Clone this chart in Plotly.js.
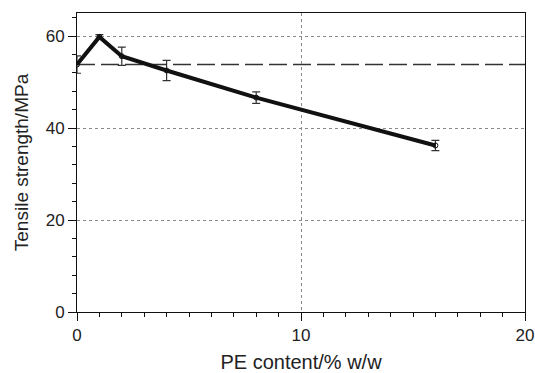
<!DOCTYPE html>
<html>
<head>
<meta charset="utf-8">
<script src="https://cdn.plot.ly/plotly-3.0.1.min.js"></script>
<style>html,body{margin:0;padding:0;background:#fff;}#chart{width:535px;height:373px;}</style>
</head>
<body>
<div id="chart"></div>
<script>
// PE content (% w/w)
const peContent = [0, 1, 2, 4, 8, 16];
// Tensile strength (MPa)
const tensileStrength = [53.8, 59.8, 55.6, 52.5, 46.6, 36.2];
// Error bar half-widths (MPa)
const tensileError = [1.9, 0.5, 2.0, 2.2, 1.25, 1.1];
// Reference (neat polymer) level, dashed line
const referenceLevel = [53.8];
const xRange = [0, 20];
const yRange = [0, 65];

const font = "Liberation Sans, Arial, Helvetica, sans-serif";

const traces = [{
  x: peContent,
  y: tensileStrength,
  type: 'scatter',
  mode: 'lines+markers',
  line: {color: '#111', width: 4},
  marker: {symbol: 'circle-open', size: 5, color: '#111', line: {width: 1}},
  error_y: {type: 'data', array: tensileError, visible: true, color: '#333', thickness: 1.2, width: 4},
  showlegend: false,
  hoverinfo: 'x+y'
}];

const axisCommon = {
  showline: true, linecolor: '#111', linewidth: 1, mirror: true,
  ticks: 'outside', tickcolor: '#111', tickwidth: 1,
  showgrid: true, gridcolor: '#888', griddash: 'dot', gridwidth: 1,
  zeroline: false,
  ticklabeloverflow: 'allow',
  tickfont: {family: font, size: 17, color: '#222'}
};

const layout = {
  width: 535, height: 373,
  margin: {l: 77, r: 10, t: 13, b: 61},
  paper_bgcolor: '#fff', plot_bgcolor: '#fff',
  xaxis: Object.assign({}, axisCommon, {
    range: xRange, dtick: 10, tick0: 0, ticklen: 8,
    minor: {ticks: 'outside', dtick: 1, ticklen: 4, tickcolor: '#111', showgrid: false},
    title: {text: 'PE content/% w/w', font: {family: font, size: 20, color: '#222'}, standoff: 14}
  }),
  yaxis: Object.assign({}, axisCommon, {
    range: yRange, dtick: 20, tick0: 0, ticklen: 8,
    minor: {ticks: 'outside', dtick: 4, ticklen: 4, tickcolor: '#111', showgrid: false},
    title: {text: 'Tensile strength/MPa', font: {family: font, size: 19, color: '#222'}, standoff: 12}
  }),
  shapes: referenceLevel.map(v => ({
    type: 'line', xref: 'paper', x0: 0, x1: 1, yref: 'y', y0: v, y1: v,
    line: {color: '#333', width: 1.3, dash: '18px,6px'}, layer: 'below'
  }))
};

Plotly.newPlot('chart', traces, layout, {displayModeBar: false, staticPlot: true});
</script>
</body>
</html>
